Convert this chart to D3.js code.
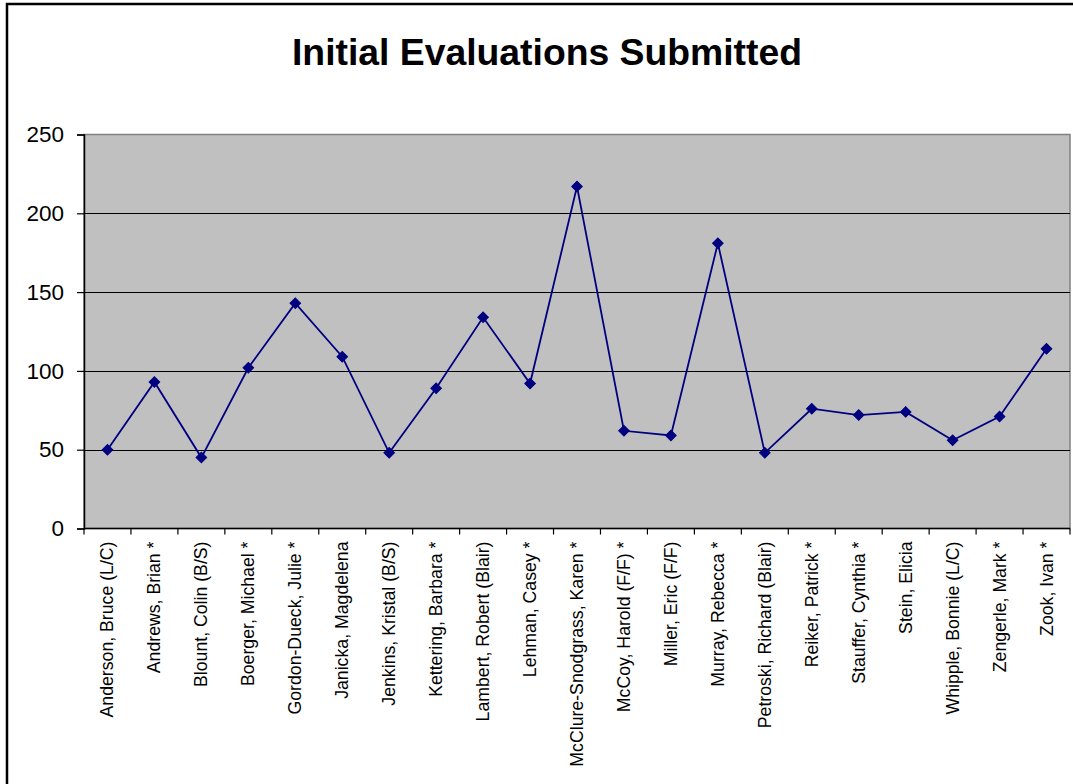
<!DOCTYPE html>
<html>
<head>
<meta charset="utf-8">
<script src="https://cdn.jsdelivr.net/npm/d3@7"></script>
<style>
  html, body { margin: 0; padding: 0; background: #fff; }
  svg { display: block; }
  text { font-family: "Liberation Sans", Arial, sans-serif; }
</style>
</head>
<body>
<svg id="chart" width="1073" height="784"></svg>
<script>
const categories = [
  "Anderson, Bruce (L/C)", "Andrews, Brian *", "Blount, Colin (B/S)", "Boerger, Michael *",
  "Gordon-Dueck, Julie *", "Janicka, Magdelena", "Jenkins, Kristal (B/S)", "Kettering, Barbara *",
  "Lambert, Robert (Blair)", "Lehman, Casey *", "McClure-Snodgrass, Karen *", "McCoy, Harold (F/F) *",
  "Miller, Eric (F/F)", "Murray, Rebecca *", "Petroski, Richard (Blair)", "Reiker, Patrick *",
  "Stauffer, Cynthia *", "Stein, Elicia", "Whipple, Bonnie (L/C)", "Zengerle, Mark *", "Zook, Ivan *"
];
const values = [50, 93, 45, 102, 143, 109, 48, 89, 134, 92, 217, 62, 59, 181, 48, 76, 72, 74, 56, 71, 114];
const yTicks = [0, 50, 100, 150, 200, 250];
const title = "Initial Evaluations Submitted";

(function () {
const svg = d3.select("#chart");
const pLeft = 84, pRight = 1070, pTop = 134.5, pBottom = 528.5;

const x = d3.scaleBand().domain(categories).range([pLeft, pRight]).paddingInner(0).paddingOuter(0);
const y = d3.scaleLinear().domain([0, 250]).range([pBottom, pTop]);

// outer chart border (only left & top visible)
svg.append("path")
  .attr("d", `M7,784 L7,4 L1073,4`)
  .attr("fill", "none").attr("stroke", "#000").attr("stroke-width", 2.5);

// title
svg.append("text")
  .attr("x", 547).attr("y", 65)
  .attr("text-anchor", "middle")
  .attr("font-size", 37).attr("font-weight", "bold")
  .attr("fill", "#000")
  .attr("textLength", 510).attr("lengthAdjust", "spacingAndGlyphs")
  .text(title);

// plot area
svg.append("rect")
  .attr("x", pLeft).attr("y", pTop)
  .attr("width", pRight - pLeft).attr("height", pBottom - pTop)
  .attr("fill", "#c0c0c0").attr("stroke", "#808080").attr("stroke-width", 1.5);

// gridlines
svg.append("g").selectAll("line")
  .data(yTicks.filter(d => d > 0 && d < 250))
  .join("line")
  .attr("x1", pLeft).attr("x2", pRight)
  .attr("y1", d => Math.round(y(d)) + 0.5).attr("y2", d => Math.round(y(d)) + 0.5)
  .attr("stroke", "#000").attr("stroke-width", 1);

// y axis
const yAxis = svg.append("g")
  .attr("transform", `translate(${pLeft},0)`)
  .call(d3.axisLeft(y).tickValues(yTicks).tickSize(7).tickPadding(13).tickFormat(d3.format("d")));
yAxis.select(".domain").attr("stroke", "#000").attr("stroke-width", 1.5);
yAxis.selectAll(".tick line").attr("stroke", "#000").attr("stroke-width", 1.2);
yAxis.selectAll(".tick text")
  .attr("font-size", 22.5).attr("fill", "#000")
  .attr("font-family", "'Liberation Sans', Arial, sans-serif");

// x axis line
svg.append("line")
  .attr("x1", pLeft).attr("x2", pRight)
  .attr("y1", pBottom).attr("y2", pBottom)
  .attr("stroke", "#000").attr("stroke-width", 1.5);

// x ticks at category boundaries
const boundaries = categories.map(c => x(c)).concat([pRight]);
svg.append("g").selectAll("line")
  .data(boundaries)
  .join("line")
  .attr("x1", d => d).attr("x2", d => d)
  .attr("y1", pBottom).attr("y2", pBottom + 6)
  .attr("stroke", "#000").attr("stroke-width", 1.2);

// x labels
svg.append("g").selectAll("text")
  .data(categories)
  .join("text")
  .attr("transform", d => `translate(${x(d) + x.bandwidth() / 2 + 6},${pBottom + 13}) rotate(-90)`)
  .attr("text-anchor", "end")
  .attr("font-size", 17.7)
  .attr("fill", "#000")
  .text(d => d);

// line
const line = d3.line()
  .x((d, i) => x(categories[i]) + x.bandwidth() / 2)
  .y(d => y(d));
svg.append("path")
  .datum(values)
  .attr("d", line)
  .attr("fill", "none")
  .attr("stroke", "#000080")
  .attr("stroke-width", 1.8);

// markers (diamonds)
const sym = d3.symbol().type(d3.symbolSquare).size(56);
svg.append("g").selectAll("path")
  .data(values)
  .join("path")
  .attr("d", sym)
  .attr("transform", (d, i) => `translate(${x(categories[i]) + x.bandwidth() / 2},${y(d)}) rotate(45)`)
  .attr("fill", "#000080")
  .attr("stroke", "#000080")
  .attr("stroke-width", 1);
})();
</script>
</body>
</html>
